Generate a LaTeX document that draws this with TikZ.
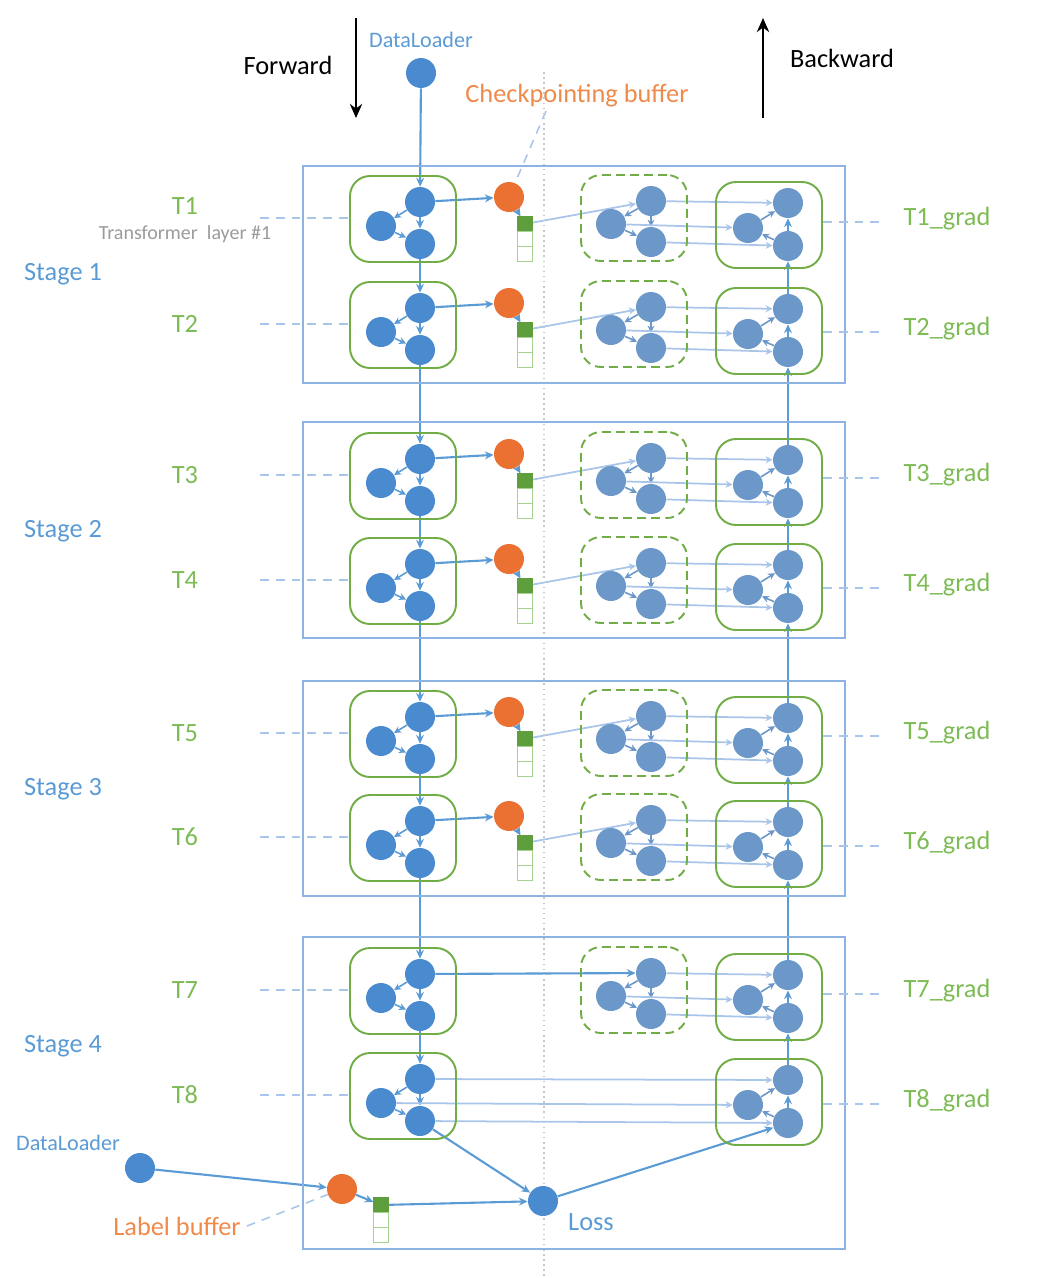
\documentclass[tikz,border=0pt]{standalone}
\usepackage{fontspec}
\setmainfont{Carlito}
\usetikzlibrary{arrows.meta, positioning, backgrounds}
\definecolor{fwdcol}{HTML}{4A8BCF}
\definecolor{bwdcol}{HTML}{6B97C9}
\definecolor{linecol}{HTML}{5B9BD5}
\definecolor{lightcol}{HTML}{A9C6EA}
\definecolor{stagecol}{HTML}{8DB3E2}
\definecolor{boxcol}{HTML}{70AD47}
\definecolor{bufcol}{HTML}{5E9E3C}
\definecolor{cellcol}{HTML}{A9D18E}
\definecolor{ckcol}{HTML}{EA7132}
\definecolor{cktext}{HTML}{F08A4B}
\definecolor{tcol}{HTML}{7DBB55}
\definecolor{stagetext}{HTML}{5B9BD5}
\definecolor{greytext}{HTML}{9B9B9B}
\definecolor{midcol}{HTML}{C8C8C8}

\begin{document}
\begin{tikzpicture}[
    x=0.02cm, y=-0.02cm,
    >={Stealth[length=5pt, width=4.5pt]},
    dot/.style={circle, fill=fwdcol, minimum size=0.6cm, inner sep=0pt},
    rdot/.style={dot, fill=bwdcol},
    ckdot/.style={dot, fill=ckcol},
    fwdbox/.style={draw=boxcol, line width=1.1pt, rounded corners=0.4cm,
        minimum width=2.12cm, minimum height=1.72cm},
    rcbox/.style={fwdbox, dash pattern=on 5pt off 3pt},
    cell/.style={draw=cellcol, line width=0.9pt, minimum size=0.3cm, inner sep=0pt, outer sep=0pt},
    fcell/.style={cell, fill=bufcol, draw=bufcol},
    stagebox/.style={draw=stagecol, line width=1pt},
    main/.style={->, draw=linecol, line width=1.2pt},
    inner/.style={->, draw=linecol, line width=0.9pt, >={Stealth[length=4pt, width=4pt]}},
    rinner/.style={inner, draw=bwdcol},
    light/.style={->, draw=lightcol, line width=1pt, >={Stealth[length=4pt, width=4pt]}},
    guide/.style={draw=lightcol, line width=0.9pt, dash pattern=on 5pt off 4pt},
    lbl/.style={font=\fontsize{15}{18}\selectfont},
    small/.style={font=\fontsize{12.6}{15}\selectfont},
    dirarrow/.style={->, line width=1.3pt, >={Stealth[length=8pt, width=7pt]}},
]
\useasboundingbox (0,0) rectangle (1036,1278);

% ============================================================
%  Direction arrows, top data loader
% ============================================================
\coordinate (fwA) at (356,18);
\coordinate (fwB) at (356,118);
\coordinate (bwA) at (763,118);
\coordinate (bwB) at (763,18);
\draw[dirarrow] (fwA) -- (fwB);
\draw[dirarrow] (bwA) -- (bwB);
\node[lbl] (fwtxt) at (288,65) {Forward};
\node[lbl] (bwtxt) at (842,58) {Backward};

\node[small, text=stagetext] (dltxt) at (421,40) {DataLoader};
\node[dot] (dl0) at (421,73) {};
\node[lbl, text=cktext] (cbtxt) at (577,96) {Checkpointing buffer};
\coordinate (cbtip) at (546,111);

% middle divider
\coordinate (midA) at (544,72);
\coordinate (midB) at (544,1278);
\draw[midcol, dotted, line width=0.9pt] (midA) -- (midB);

% ============================================================
%  Stages
% ============================================================
\draw[stagebox] (303,166) rectangle (845,383);
\draw[stagebox] (303,422) rectangle (845,638);
\draw[stagebox] (303,681) rectangle (845,896);
\draw[stagebox] (303,937) rectangle (845,1249);
\foreach \s/\y in {1/274, 2/531, 3/789, 4/1046} {
    \node[lbl, text=stagetext] (st\s) at (63,\y) {Stage \s};
}

% ============================================================
%  Layers: forward (left) and backward (right)
% ============================================================
\foreach \i/\y/\ly/\gy in {1/218/206/219, 2/324/324/329, 3/475/475/475, 4/580/580/585,
                          5/733/733/733, 6/837/837/843, 7/990/990/991, 8/1095/1095/1101} {
    \node[fwdbox] (fbx\i) at (403,\y+1) {};
    \node[dot] (ft\i) at (420,\y-16) {};
    \node[dot] (fl\i) at (381,\y+8) {};
    \node[dot] (fb\i) at (420,\y+26) {};

    \node[fwdbox] (bbx\i) at (769,\y+7) {};
    \node[rdot] (bt\i) at (788,\y-15) {};
    \node[rdot] (bl\i) at (748,\y+10) {};
    \node[rdot] (bb\i) at (788,\y+28) {};

    \node[lbl, text=tcol] (tl\i) at (185,\ly) {T\i};
    \node[lbl, text=tcol] (gl\i) at (947,\gy) {T\i\_grad};
    \coordinate (dl\i) at (260,\y);
    \coordinate (dr\i) at (882,\gy+3);
    \draw[guide] (dl\i) -- (fbx\i.west |- dl\i);
    \draw[guide] (bbx\i.east |- dr\i) -- (dr\i);
}
\node[font=\fontsize{11.4}{14}\selectfont, text=greytext] (tlayer) at (185,234) {Transformer\ \ layer \#1};

% recompute boxes
\foreach \i/\y in {1/218, 2/324, 3/475, 4/580, 5/733, 6/837, 7/990} {
    \node[rcbox] (rbx\i) at (634,\y) {};
    \node[rdot] (rt\i) at (651,\y-17) {};
    \node[rdot] (rl\i) at (611,\y+6) {};
    \node[rdot] (rb\i) at (651,\y+24) {};
}

% checkpoint buffers
\foreach \i/\y in {1/218, 2/324, 3/475, 4/580, 5/733, 6/837} {
    \node[ckdot] (ck\i) at (509,\y-21) {};
    \node[fcell] (bf\i) at (525,\y+6) {};
    \node[cell, below=0pt of bf\i] (bfa\i) {};
    \node[cell, below=0pt of bfa\i] (bfb\i) {};
}

% ============================================================
%  Labels and loss
% ============================================================
\node[small, text=stagetext] (dl2txt) at (68,1143) {DataLoader};
\node[dot] (dl2) at (140,1168) {};
\node[ckdot] (lb) at (342,1189) {};
\node[fcell] (lbf) at (381,1205) {};
\node[cell, below=0pt of lbf] (lbfa) {};
\node[cell, below=0pt of lbfa] (lbfb) {};
\node[lbl, text=cktext] (lbtxt) at (177,1226) {Label buffer};
\node[dot] (loss) at (543,1201) {};
\node[lbl, text=stagetext] (losstxt) at (591,1222) {Loss};

% ============================================================
%  Connectors
% ============================================================
\begin{scope}[on background layer]
\draw[main] (dl0) -- (ft1);
\foreach \i in {1,...,8} {
    \draw[inner] (ft\i) -- (fl\i);
    \draw[inner] (fl\i) -- (fb\i);
    \draw[main] (ft\i) -- (fb\i);
    \draw[main] (bb\i) -- (bt\i);
    \draw[rinner] (bb\i) -- (bl\i);
    \draw[rinner] (bl\i) -- (bt\i);
}
\foreach \i [count=\j from 2] in {1,...,7} {
    \draw[main] (fb\i) -- (ft\j);
    \draw[main] (bt\j) -- (bb\i);
}
\foreach \i in {1,...,6} {
    \draw[main] (ft\i) -- (ck\i);
    \draw[main] (ck\i) -- (bf\i);
    \draw[light] (bf\i) -- (rt\i);
}
\draw[main] (ft7) -- (rt7);
\foreach \i in {1,...,7} {
    \draw[rinner] (rt\i) -- (rl\i);
    \draw[rinner] (rl\i) -- (rb\i);
    \draw[rinner] (rt\i) -- (rb\i);
    \draw[light] (rt\i) -- (bt\i);
    \draw[light] (rl\i) -- (bl\i);
    \draw[light] (rb\i) -- (bb\i);
}
\draw[light] (ft8) -- (bt8);
\draw[light] (fl8) -- (bl8);
\draw[light] (fb8) -- (bb8);

\draw[main] (dl2) -- (lb);
\draw[main] (lb) -- (lbf);
\draw[main] (lbf) -- (loss);
\draw[main] (fb8) -- (loss);
\draw[main] (loss) -- (bb8);

\draw[guide] (cbtip) -- (ck1);
\draw[guide] (lbtxt.east) -- (lb);
\end{scope}

\end{tikzpicture}
\end{document}
